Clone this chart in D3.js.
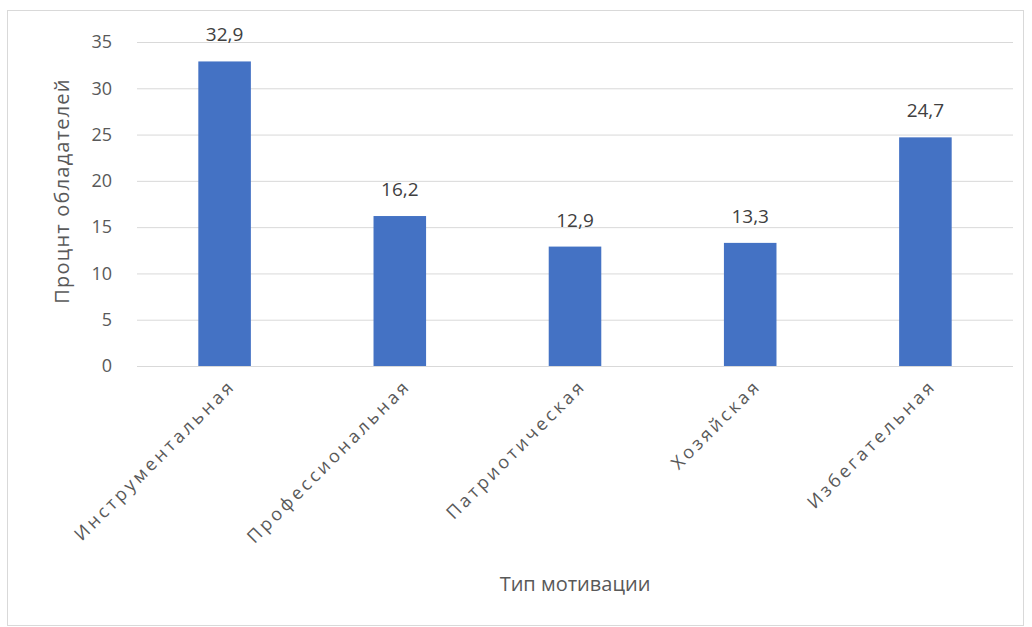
<!DOCTYPE html>
<html>
<head>
<meta charset="utf-8">
<script src="https://cdn.jsdelivr.net/npm/d3@7"></script>
<style>
  html, body { margin: 0; padding: 0; background: #fff; }
  svg text { font-family: "Open Sans", "Noto Sans", sans-serif; }
</style>
</head>
<body>
<div id="chart"></div>
<script>

// Data ////////////////////////////////////////

const categories = ["Инструментальная", "Профессиональная", "Патриотическая", "Хозяйская", "Избегательная"];
const values = [32.9, 16.2, 12.9, 13.3, 24.7];
const yTicks = [0, 5, 10, 15, 20, 25, 30, 35];
const yTitle = "Процнт обладателей";
const xTitle = "Тип мотивации";

// Layout //////////////////////////////////////

const dim = { width: 1032, height: 627 };
const plot = { left: 137, right: 1013, top: 42, bottom: 366 };

const svg = d3.select("#chart").append("svg")
    .attr("width", dim.width)
    .attr("height", dim.height);

svg.append("rect")
    .attr("x", 7.5)
    .attr("y", 10.5)
    .attr("width", 1016)
    .attr("height", 615)
    .attr("fill", "#fff")
    .attr("stroke", "#d9d9d9");

const x = d3.scaleBand()
    .domain(categories)
    .range([plot.left, plot.right])
    .paddingInner(0.7)
    .paddingOuter(0.35);

const y = d3.scaleLinear()
    .domain([0, 35])
    .range([plot.bottom, plot.top]);

// Grid & axis /////////////////////////////////

const yAxis = svg.append("g")
    .attr("transform", `translate(${plot.left},0)`)
    .call(d3.axisLeft(y).tickValues(yTicks).tickSize(-(plot.right - plot.left)).tickPadding(25));

yAxis.select(".domain").remove();
yAxis.selectAll(".tick line")
    .attr("stroke", "#d9d9d9")
    .attr("stroke-width", 1);
yAxis.selectAll(".tick text")
    .attr("fill", "#595959")
    .style("font-size", "18px");

// Bars ////////////////////////////////////////

const data = categories.map((c, i) => ({ cat: c, v: values[i] }));

svg.append("g")
    .selectAll("rect")
    .data(data)
    .join("rect")
    .attr("x", d => x(d.cat))
    .attr("y", d => y(d.v))
    .attr("width", x.bandwidth())
    .attr("height", d => y(0) - y(d.v))
    .attr("fill", "#4472c4");

svg.append("g")
    .selectAll("text")
    .data(data)
    .join("text")
    .attr("x", d => x(d.cat) + x.bandwidth() / 2)
    .attr("y", d => y(d.v) - 20)
    .attr("text-anchor", "middle")
    .attr("fill", "#404040")
    .style("font-size", "19px")
    .text(d => String(d.v).replace(".", ","));

// Category labels /////////////////////////////

svg.append("g")
    .selectAll("text")
    .data(categories)
    .join("text")
    .attr("transform", d => `translate(${x(d) + x.bandwidth() / 2 + 12},387) rotate(-45)`)
    .attr("text-anchor", "end")
    .attr("fill", "#595959")
    .style("font-size", "18px")
    .style("letter-spacing", "3.2px")
    .text(d => d);

// Titles //////////////////////////////////////

svg.append("text")
    .attr("transform", `translate(69,191) rotate(-90)`)
    .attr("text-anchor", "middle")
    .attr("fill", "#595959")
    .style("font-size", "20px")
    .style("letter-spacing", "1.2px")
    .text(yTitle);

svg.append("text")
    .attr("x", (plot.left + plot.right) / 2)
    .attr("y", 591)
    .attr("text-anchor", "middle")
    .attr("fill", "#595959")
    .style("font-size", "20px")
    .text(xTitle);

</script>
</body>
</html>
